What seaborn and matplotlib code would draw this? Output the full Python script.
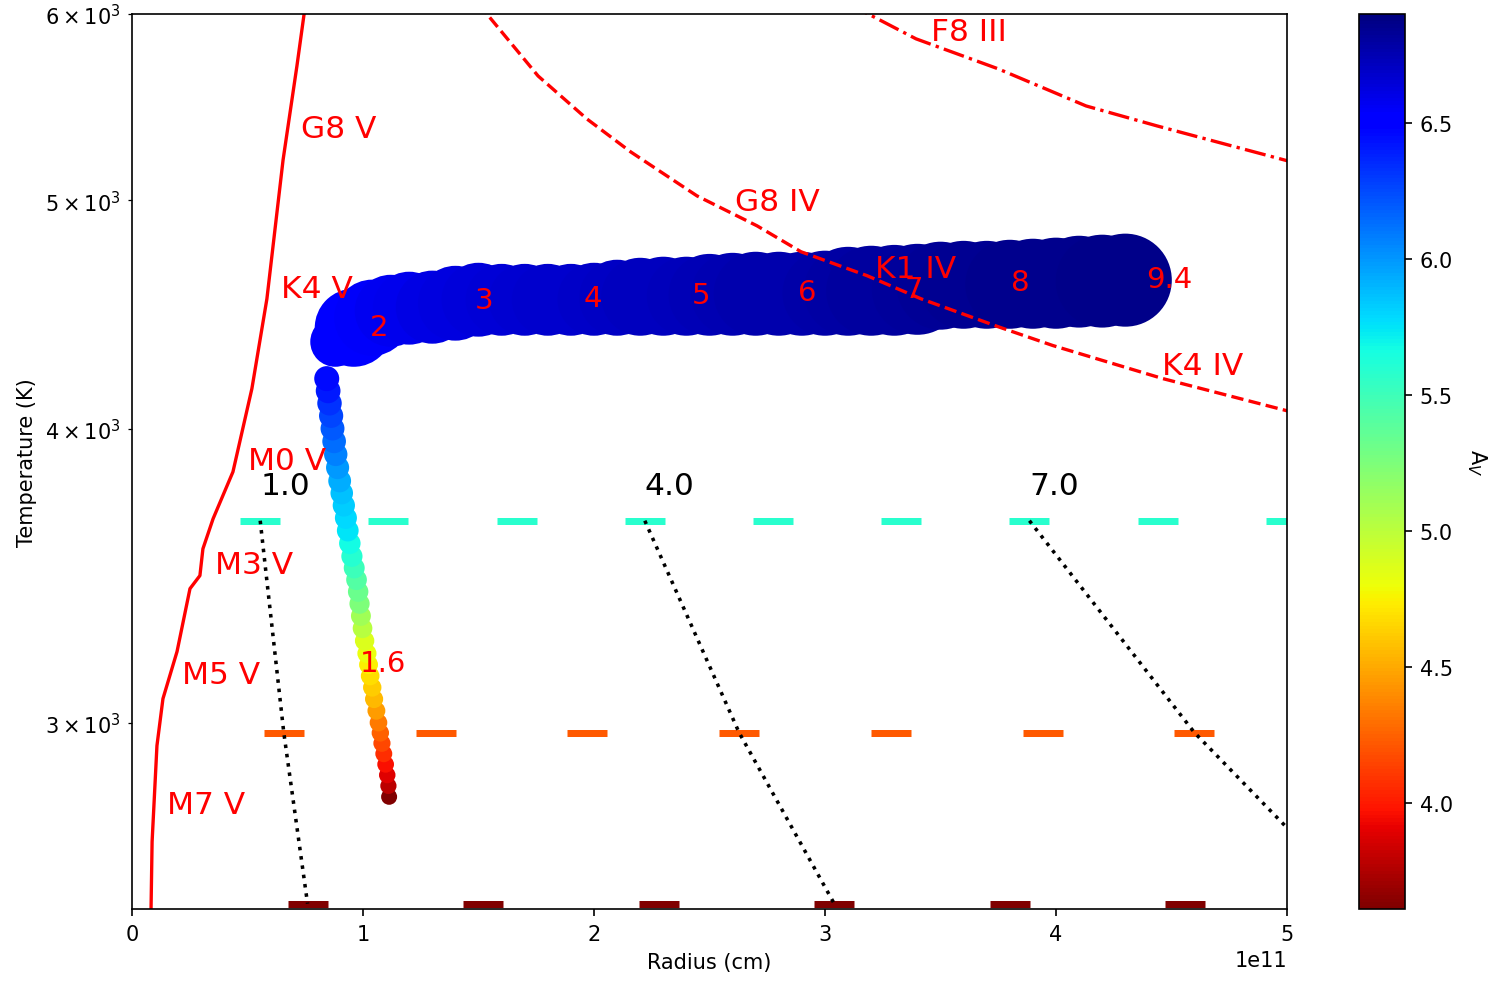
import numpy as np
import pandas as pd
import seaborn as sns
import matplotlib.pyplot as plt
from matplotlib.colors import Normalize
from matplotlib.cm import ScalarMappable

# colour scale for A_V
av_min, av_max = 3.61, 6.90

# lower (cool) part of the track: radius [1e11 cm], temperature [K], A_V
tail_R = [1.113, 1.110, 1.105, 1.098, 1.090, 1.082, 1.075, 1.067, 1.058, 1.048,
          1.040, 1.031, 1.024, 1.017, 1.007, 0.998, 0.991, 0.985, 0.979, 0.972,
          0.962, 0.952, 0.943, 0.934, 0.926, 0.917, 0.908, 0.899, 0.890, 0.882,
          0.875, 0.868, 0.862, 0.855, 0.849, 0.843]
tail_T = [2790, 2820, 2850, 2880, 2910, 2940, 2970, 3000, 3035, 3070,
          3105, 3140, 3175, 3210, 3250, 3290, 3330, 3370, 3410, 3450,
          3490, 3530, 3575, 3620, 3665, 3710, 3755, 3800, 3850, 3900,
          3950, 4000, 4050, 4100, 4150, 4200]
tail_Av = [3.62, 3.78, 3.88, 3.96, 4.06, 4.16, 4.25, 4.34, 4.45, 4.55,
           4.62, 4.68, 4.75, 4.81, 4.88, 5.02, 5.11, 5.25, 5.33, 5.41,
           5.51, 5.60, 5.67, 5.75, 5.79, 5.83, 5.87, 5.93, 6.00, 6.07,
           6.14, 6.20, 6.27, 6.33, 6.40, 6.46]

# upper (hot) part of the track: radius and temperature range at each step
band_R = [0.88, 0.96, 1.04, 1.12, 1.20, 1.30, 1.40, 1.50, 1.60, 1.70, 1.80, 1.90,
          2.00, 2.10, 2.20, 2.30, 2.40, 2.50, 2.60, 2.70, 2.80, 2.90, 3.00, 3.10,
          3.20, 3.30, 3.40, 3.50, 3.60, 3.70, 3.80, 3.90, 4.00, 4.10, 4.20, 4.30]
band_T_lo = [4249, 4249, 4295, 4333, 4342, 4346, 4359, 4376, 4380, 4380, 4380, 4380,
             4380, 4380, 4380, 4380, 4380, 4380, 4380, 4380, 4380, 4380, 4380, 4380,
             4380, 4380, 4384, 4406, 4410, 4410, 4410, 4410, 4410, 4415, 4415, 4419]
band_T_hi = [4462, 4586, 4627, 4649, 4663, 4668, 4690, 4704, 4699, 4699, 4699, 4699,
             4704, 4718, 4727, 4732, 4732, 4745, 4750, 4755, 4755, 4755, 4760, 4778,
             4783, 4787, 4792, 4802, 4806, 4806, 4811, 4816, 4821, 4830, 4835, 4840]
band_Av = [6.50, 6.53, 6.55, 6.57, 6.59, 6.61, 6.63, 6.64, 6.65, 6.66, 6.67, 6.68,
           6.69, 6.70, 6.71, 6.72, 6.73, 6.74, 6.75, 6.76, 6.77, 6.77, 6.78, 6.79,
           6.80, 6.81, 6.82, 6.83, 6.84, 6.84, 6.85, 6.85, 6.86, 6.86, 6.87, 6.87]

# ages along the track (Myr)
age_labels = ["1.6", "2", "3", "4", "5", "6", "7", "8", "9.4"]
age_R = [1.087, 1.068, 1.523, 1.995, 2.462, 2.922, 3.386, 3.846, 4.492]
age_T = [3181, 4419, 4534, 4545, 4560, 4571, 4586, 4616, 4631]

# reference sequences (luminosity classes V, IV, III)
V_R = [0.081, 0.087, 0.108, 0.134, 0.195, 0.251, 0.294, 0.307, 0.351, 0.437,
       0.519, 0.584, 0.654, 0.714, 0.745, 0.760]
V_T = [2450, 2670, 2933, 3071, 3216, 3420, 3464, 3556, 3662, 3834,
       4159, 4541, 5202, 5703, 6000, 6100]
IV_R = [1.50, 1.758, 1.970, 2.160, 2.446, 2.706, 2.896, 3.182, 3.416, 3.749,
        3.987, 4.463, 5.0, 5.1]
IV_T = [6060, 5647, 5414, 5242, 5022, 4877, 4755, 4645, 4541, 4419,
        4338, 4200, 4070, 4050]
III_R = [3.10, 3.203, 3.394, 3.749, 4.13, 4.437, 5.0, 5.1]
III_T = [6060, 5989, 5856, 5687, 5484, 5378, 5198, 5180]

V_labels = ["G8 V", "K4 V", "M0 V", "M3 V", "M5 V", "M7 V"]
V_lab_R = [0.732, 0.645, 0.502, 0.359, 0.216, 0.152]
V_lab_T = [5362, 4586, 3876, 3501, 3144, 2769]
giant_labels = ["G8 IV", "K1 IV", "K4 IV", "F8 III"]
giant_lab_R = [2.61, 3.216, 4.459, 3.459]
giant_lab_T = [4993, 4677, 4254, 5896]

# grid rows of constant temperature
row_T = [3655, 2971, 2513]
row_Av = [5.58, 4.22, 3.61]
row_R = [[0.555, 1.11, 1.665, 2.22, 2.775, 3.33, 3.885, 4.44, 4.995],
         [0.657, 1.314, 1.971, 2.628, 3.285, 3.942, 4.599, 5.256],
         [0.76, 1.52, 2.28, 3.04, 3.80, 4.56, 5.32]]
grid_labels = ["1.0", "4.0", "7.0"]
grid_index = [0, 3, 6]

dpi = 150
fig = plt.figure(figsize=(1493 / dpi, 984 / dpi), dpi=dpi)
ax = fig.add_axes([132 / 1493, 74 / 984, 1155 / 1493, 895 / 984])
cax = fig.add_axes([1359 / 1493, 74 / 984, 46 / 1493, 895 / 984])

ax.set_yscale("log")
ax.set_xlim(0, 5e11)
ax.set_ylim(2500, 6000)

scale = 1e11
pal = "jet_r"
hnorm = (av_min, av_max)

# constant-temperature grid markers
grid = pd.DataFrame({
    "R": [r * scale for rs in row_R for r in rs],
    "T": [t for t, rs in zip(row_T, row_R) for _ in rs],
    "Av": [a for a, rs in zip(row_Av, row_R) for _ in rs],
})
sns.scatterplot(data=grid, x="R", y="T", hue="Av", palette=pal, hue_norm=hnorm,
                marker="_", s=(40 * 72 / dpi) ** 2, linewidth=7 * 72 / dpi,
                legend=False, ax=ax)

for lab, k in zip(grid_labels, grid_index):
    xs = [rs[k] * scale for rs in row_R]
    ax.plot(xs, row_T, ":", color="k", lw=1.7)
    ax.annotate(lab, (row_R[0][k] * scale, row_T[0]), xytext=(0, 10),
                textcoords="offset points", ha="left", va="bottom",
                fontsize=15, color="k")

# track: cool tail (marker width grows with temperature)
tail = pd.DataFrame({"R": np.array(tail_R) * scale, "T": tail_T, "Av": tail_Av})
sns.scatterplot(data=tail, x="R", y="T", hue="Av", palette=pal, hue_norm=hnorm,
                size="T", sizes=((16 * 72 / dpi) ** 2, (25 * 72 / dpi) ** 2),
                linewidth=0, edgecolor="none", legend=False, ax=ax)

# track: hot part, marker size spans the temperature range
band = pd.DataFrame({"R": np.array(band_R) * scale,
                     "T": np.sqrt(np.array(band_T_lo) * np.array(band_T_hi)),
                     "Av": band_Av})
y_lo = ax.transData.transform(np.column_stack([band["R"], band_T_lo]))[:, 1]
y_hi = ax.transData.transform(np.column_stack([band["R"], band_T_hi]))[:, 1]
sizes = ((y_hi - y_lo) * 72 / dpi) ** 2
sns.scatterplot(data=band, x="R", y="T", hue="Av", palette=pal, hue_norm=hnorm,
                linewidth=0, edgecolor="none", legend=False, ax=ax)
ax.collections[-1].set_sizes(sizes)

# reference sequences
sns.lineplot(x=np.array(V_R) * scale, y=V_T, sort=False, estimator=None,
             color="red", lw=1.6, ax=ax)
sns.lineplot(x=np.array(IV_R) * scale, y=IV_T, sort=False, estimator=None,
             color="red", lw=1.6, linestyle="--", ax=ax)
sns.lineplot(x=np.array(III_R) * scale, y=III_T, sort=False, estimator=None,
             color="red", lw=1.6, linestyle="-.", ax=ax)

for lab, r, t in zip(V_labels + giant_labels, V_lab_R + giant_lab_R,
                     V_lab_T + giant_lab_T):
    ax.text(r * scale, t, lab, color="red", fontsize=15, ha="left", va="center")

for lab, r, t in zip(age_labels, age_R, age_T):
    ax.text(r * scale, t, lab, color="red", fontsize=14, ha="center", va="center")

ax.set_xlim(0, 5e11)
ax.set_ylim(2500, 6000)
ax.set_xlabel("Radius (cm)")
ax.set_ylabel("Temperature (K)")

sm = ScalarMappable(norm=Normalize(av_min, av_max), cmap=pal)
cb = fig.colorbar(sm, cax=cax)
cb.set_label("A$_V$", rotation=270, labelpad=17)

fig.savefig("out.png", dpi=dpi)
